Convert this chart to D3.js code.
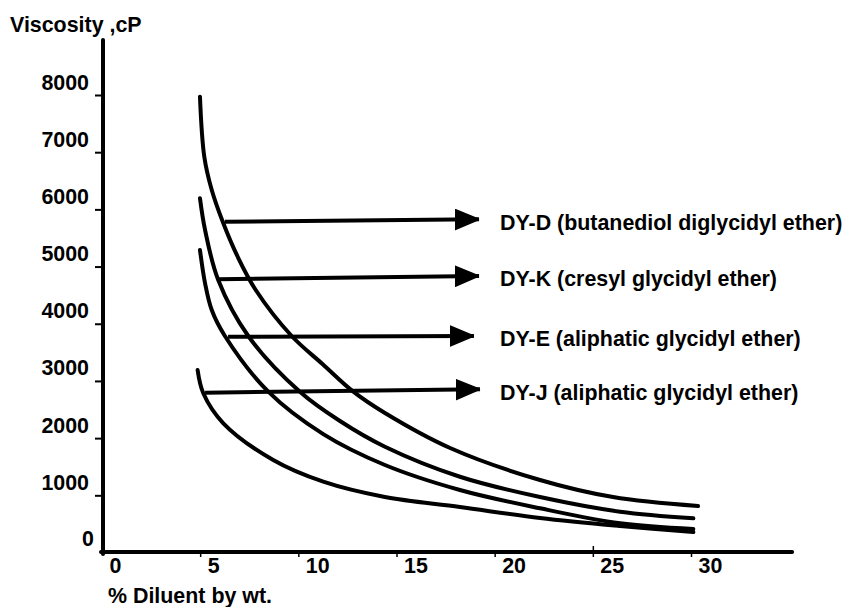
<!DOCTYPE html>
<html>
<head>
<meta charset="utf-8">
<script src="https://cdn.jsdelivr.net/npm/d3@7"></script>
<style>
  html, body { margin: 0; padding: 0; background: #fff; }
  svg { display: block; }
  text { font-family: "Liberation Sans", Arial, sans-serif; font-weight: bold; fill: #000; }
</style>
</head>
<body>
<svg id="chart" width="846" height="607"></svg>
<script>
// ---------- data ----------
const xTickValues = [0, 5, 10, 15, 20, 25, 30];
const yTickValues = [0, 1000, 2000, 3000, 4000, 5000, 6000, 7000, 8000];
const xAxisTitle = "% Diluent by wt.";
const yAxisTitle = "Viscosity ,cP";

const seriesLabels = [
  "DY-D (butanediol diglycidyl ether)",
  "DY-K (cresyl glycidyl ether)",
  "DY-E (aliphatic glycidyl ether)",
  "DY-J (aliphatic glycidyl ether)"
];

// [% diluent, viscosity cP]
const dyD = [[4.99,7970],[5.21,6921],[5.59,6339],[6.18,5757],[6.91,5172],[7.83,4590],[9.66,3786],[11.23,3296],[12.80,2812],[14.41,2439],[17.73,1827],[22.31,1268],[26.03,970],[30.36,813]];
const dyK = [[4.99,6194],[5.25,5639],[5.92,4765],[7.45,3786],[10.08,2812],[12.12,2300],[14.41,1850],[18.23,1325],[22.31,970],[26.39,713],[30.12,598]];
const dyE = [[4.99,5290],[5.25,4707],[5.59,4240],[6.26,3786],[8.47,2812],[11.27,2070],[14.41,1530],[18.23,1093],[22.31,773],[26.39,511],[30.12,411]];
const dyJ = [[4.87,3191],[5.16,2784],[6.18,2259],[8.72,1617],[11.27,1238],[14.41,970],[18.23,796],[22.31,603],[26.39,463],[30.12,358]];
const seriesData = [dyD, dyK, dyE, dyJ];

// pointer arrows (data coordinates): start on curve, end at the label
const arrowStartX = [6.26, 5.91, 6.42, 5.25];
const arrowStartY = [5784, 4777, 3773, 2794];
const arrowEndX   = [19.51, 19.51, 19.25, 19.56];
const arrowEndY   = [5826, 4835, 3786, 2854];

// axis extents
const xAxisMax = 35.15;
const yAxisMax = 8960;

// ---------- drawing ----------
const svg = d3.select("#chart");
const x = d3.scaleLinear().domain([0, 30]).range([102, 691]);
const y = d3.scaleLinear().domain([0, 8000]).range([552.5, 95]);
const axisX0 = 103, axisY0 = 552;
const fontSize = 21.4;

// marker
svg.append("defs").append("marker")
  .attr("id", "arrowhead")
  .attr("markerUnits", "userSpaceOnUse")
  .attr("viewBox", "0 0 24 22")
  .attr("markerWidth", 24).attr("markerHeight", 22)
  .attr("refX", 24).attr("refY", 11)
  .attr("orient", "auto")
  .append("path")
  .attr("d", "M0,1 L24,11 L0,21 Z")
  .attr("fill", "#000")
  .attr("stroke", "#000").attr("stroke-width", 1.5).attr("stroke-linejoin", "round");

// y ticks and labels
const yAxis = d3.axisLeft(y).tickValues(yTickValues).tickSize(8).tickFormat(d3.format("d"));
const gy = svg.append("g").attr("transform", `translate(${axisX0},0)`).call(yAxis);
gy.select(".domain").remove();
gy.selectAll(".tick line").attr("stroke", "#000").attr("stroke-width", 2)
  .attr("display", d => d === 0 ? "none" : null);
gy.selectAll(".tick text")
  .attr("x", d => d === 0 ? -9 : -14)
  .attr("dy", d => d === 0 ? "-7px" : "-6px")
  .attr("font-size", fontSize)
  .attr("font-family", null)
  .attr("text-anchor", "end");

// x ticks and labels
const xAxis = d3.axisBottom(x).tickValues(xTickValues).tickSize(5).tickFormat(d3.format("d"));
const gx = svg.append("g").attr("transform", `translate(0,${axisY0})`).call(xAxis);
gx.select(".domain").remove();
gx.selectAll(".tick line").attr("stroke", "#000").attr("stroke-width", 1.5)
  .attr("y1", d => d === 25 ? -6 : 0)
  .attr("display", d => d === 0 ? "none" : null);
gx.selectAll(".tick text")
  .attr("x", 7)
  .attr("y", 21)
  .attr("dy", null)
  .attr("font-size", fontSize)
  .attr("font-family", null)
  .attr("text-anchor", "start");

// axis lines
svg.append("line")
  .attr("x1", axisX0).attr("x2", axisX0)
  .attr("y1", y(yAxisMax)).attr("y2", axisY0 + 2)
  .attr("stroke", "#000").attr("stroke-width", 4).attr("stroke-linecap", "round");
svg.append("line")
  .attr("x1", axisX0 - 2).attr("x2", x(xAxisMax))
  .attr("y1", axisY0).attr("y2", axisY0)
  .attr("stroke", "#000").attr("stroke-width", 4).attr("stroke-linecap", "round");

// curves
const line = d3.line()
  .x(d => x(d[0])).y(d => y(d[1]))
  .curve(d3.curveCatmullRom.alpha(0.5));
svg.append("g").selectAll("path").data(seriesData).join("path")
  .attr("d", line)
  .attr("fill", "none")
  .attr("stroke", "#000")
  .attr("stroke-width", 4)
  .attr("stroke-linecap", "round");

// arrows
const arrowIdx = d3.range(seriesLabels.length);
svg.append("g").selectAll("line").data(arrowIdx).join("line")
  .attr("x1", i => x(arrowStartX[i])).attr("y1", i => y(arrowStartY[i]))
  .attr("x2", i => x(arrowEndX[i]) - 6).attr("y2", i => y(arrowEndY[i]))
  .attr("stroke", "#000").attr("stroke-width", 4)
  .attr("marker-end", "url(#arrowhead)");

// labels
svg.append("g").selectAll("text").data(arrowIdx).join("text")
  .attr("x", 500)
  .attr("y", i => y(arrowEndY[i]) + 10.5)
  .attr("font-size", fontSize)
  .text(i => seriesLabels[i]);

// axis titles
svg.append("text").attr("x", 10).attr("y", 31.5).attr("font-size", fontSize).text(yAxisTitle);
svg.append("text").attr("x", 108).attr("y", 603).attr("font-size", fontSize).text(xAxisTitle);
</script>
</body>
</html>
